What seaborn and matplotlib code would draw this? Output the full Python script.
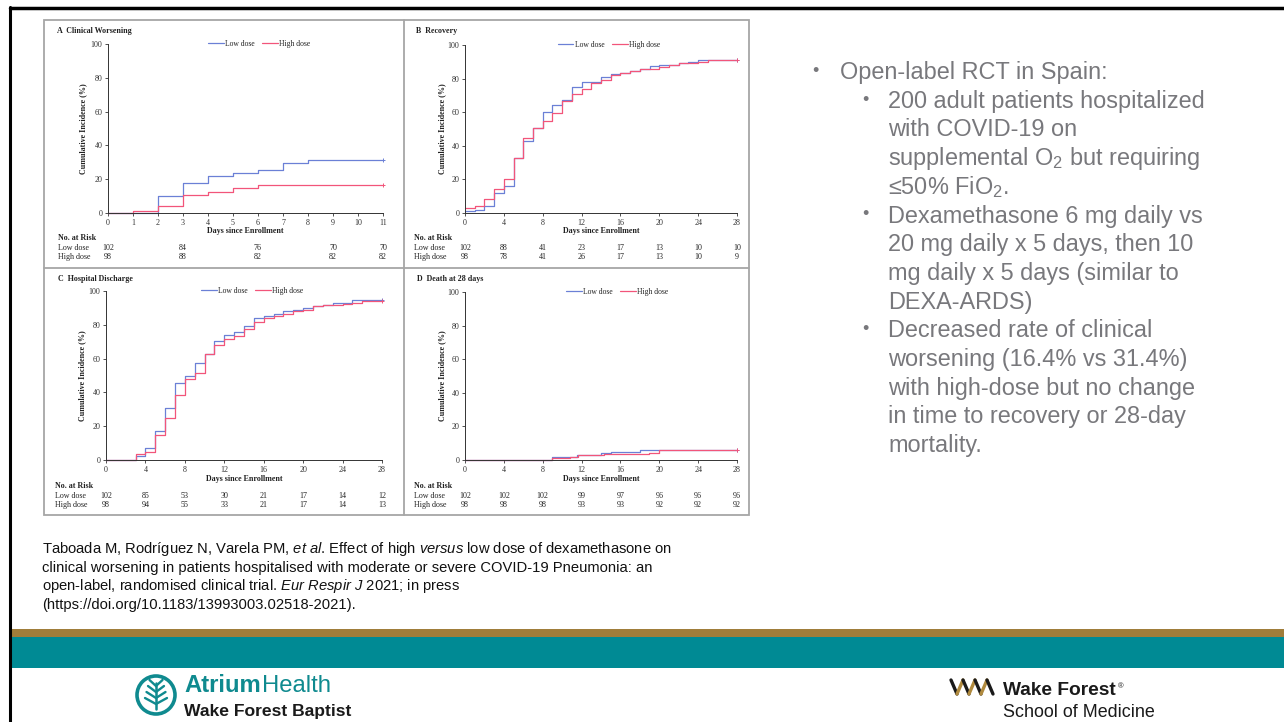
import numpy as np
import pandas as pd
import matplotlib
matplotlib.use("Agg")
import matplotlib.pyplot as plt
import seaborn as sns
from matplotlib.transforms import blended_transform_factory
from matplotlib.patches import Rectangle, Ellipse
from matplotlib.lines import Line2D
from matplotlib import font_manager

# ---------------- data ----------------
A_days = list(range(12))
A_low = [0, 0, 10, 17.8, 21.8, 23.8, 25.7, 29.7, 31.4, 31.4, 31.4, 31.4]
A_high = [0, 1, 4, 10.5, 12.5, 14.5, 16.4, 16.4, 16.4, 16.4, 16.4, 16.4]
A_risk_days = [0, 3, 6, 9, 11]
A_risk_low = [102, 84, 76, 70, 70]
A_risk_high = [98, 88, 82, 82, 82]

B_days = list(range(29))
B_low = [1, 1.6, 4, 12, 16, 33, 43, 50.5, 60, 64, 67, 75, 78, 78, 81, 83, 83.5, 84.5,
         86, 87.5, 88, 88, 89, 90, 91, 91, 91, 91, 91]
B_high = [3, 4.4, 8.3, 14, 20, 33, 44.5, 50.5, 55, 59.5, 66.5, 71, 74, 77.5, 79, 82, 83.5,
          84.5, 85.5, 86, 87, 88, 89, 89.5, 90, 91, 91, 91, 91]
B_risk_low = [102, 88, 41, 23, 17, 13, 10, 10]
B_risk_high = [98, 78, 41, 26, 17, 13, 10, 9]

C_days = list(range(29))
C_low = [0, 0, 0, 2.4, 7.3, 17, 31, 45.8, 50, 57.4, 63, 70.4, 73.8, 76, 79, 84, 85, 86.6,
         88, 88.8, 90, 91, 92, 93, 93, 94.5, 94.5, 94.5, 94.5]
C_high = [0, 0, 0, 3.4, 4.7, 15, 25, 38.5, 47.7, 51.7, 63, 68, 71.4, 73.4, 77.3, 81.7, 83.8,
          85, 86.6, 88, 89, 91, 92, 92, 92.5, 93, 94, 94, 94]
C_risk_low = [102, 85, 53, 30, 21, 17, 14, 12]
C_risk_high = [98, 94, 55, 33, 21, 17, 14, 13]

D_low_t = [0, 9, 11.5, 14, 15, 18, 28]
D_low_v = [0, 2, 3, 4, 5, 6, 6]
D_high_t = [0, 9, 10.8, 11.6, 14.3, 18.9, 20, 28]
D_high_v = [0, 1, 2, 3, 3.5, 4, 6, 6]
D_risk_low = [102, 102, 102, 99, 97, 96, 96, 96]
D_risk_high = [98, 98, 98, 93, 93, 92, 92, 92]

risk_days_28 = [0, 4, 8, 12, 16, 20, 24, 28]
groups = ["Low dose", "High dose"]

bullets = [
    (0, True, "Open-label RCT in Spain:"),
    (1, True, "200 adult patients hospitalized"),
    (1, False, "with COVID-19 on"),
    (1, False, "supplemental O$_2$ but requiring"),
    (1, False, "≤50% FiO$_2$."),
    (1, True, "Dexamethasone 6 mg daily vs"),
    (1, False, "20 mg daily x 5 days, then 10"),
    (1, False, "mg daily x 5 days (similar to"),
    (1, False, "DEXA-ARDS)"),
    (1, True, "Decreased rate of clinical"),
    (1, False, "worsening (16.4% vs 31.4%)"),
    (1, False, "with high-dose but no change"),
    (1, False, "in time to recovery or 28-day"),
    (1, False, "mortality."),
]

citation = [
    r"Taboada M, Rodríguez N, Varela PM, $\mathit{et\ al}$. Effect of high $\mathit{versus}$ low dose of dexamethasone on",
    "clinical worsening in patients hospitalised with moderate or severe COVID-19 Pneumonia: an",
    r"open-label, randomised clinical trial. $\mathit{Eur\ Respir\ J}$ 2021; in press",
    "(https://doi.org/10.1183/13993003.02518-2021).",
]

# ---------------- setup ----------------
W, H = 1284, 722
sns.set_theme(style="ticks")
plt.rcParams["font.family"] = ["Liberation Sans", "DejaVu Sans"]
plt.rcParams["mathtext.fontset"] = "custom"
plt.rcParams["mathtext.rm"] = "Liberation Sans"
plt.rcParams["mathtext.it"] = "Liberation Sans:italic"
plt.rcParams["mathtext.default"] = "regular"

avail = {f.name for f in font_manager.fontManager.ttflist}
SERIF = "Liberation Serif" if "Liberation Serif" in avail else "DejaVu Serif"

fig = plt.figure(figsize=(W / 100, H / 100), dpi=100)
fig.patch.set_facecolor("white")
R = fig.canvas.get_renderer()


def fx(x):
    return x / W


def fy(y):
    return 1 - y / H


BLUE = "#6b80d6"
RED = "#f2557a"
pal = {"Low dose": BLUE, "High dose": RED}
PS = 5.8   # panel font size
TXT = "#222222"


def panel(x0, x1, y0, y100, tl, vl, th, vh, xmax, xticks, title, title_xy,
          leg_x, ylab_x, xlab_y, rows_y, lab_x, rdays, rlow, rhigh):
    ax = fig.add_axes([fx(x0), fy(y0), (x1 - x0) / W, (y0 - y100) / H])
    df = pd.DataFrame({
        "day": list(tl) + list(th),
        "pct": list(vl) + list(vh),
        "group": [groups[0]] * len(tl) + [groups[1]] * len(th),
    })
    sns.lineplot(data=df, x="day", y="pct", hue="group", hue_order=groups,
                 palette=pal, drawstyle="steps-post", estimator=None,
                 linewidth=0.9, ax=ax, clip_on=False)
    for t, v, g in [(tl, vl, groups[0]), (th, vh, groups[1])]:
        ax.plot([t[-1]], [v[-1]], marker="+", ms=3, mew=0.7, color=pal[g], clip_on=False)
    ax.set_xlim(0, xmax)
    ax.set_ylim(0, 100)
    ax.set_xticks(xticks)
    ax.set_yticks([0, 20, 40, 60, 80, 100])
    ax.tick_params(length=2.5, width=0.6, pad=1.5, labelsize=PS, colors="#333333")
    for lab in ax.get_xticklabels() + ax.get_yticklabels():
        lab.set_fontfamily(SERIF)
    sns.despine(ax=ax)
    for s in ["left", "bottom"]:
        ax.spines[s].set_linewidth(0.7)
        ax.spines[s].set_color("#333333")
    ax.set_facecolor("none")
    ax.set_ylabel("Cumulative Incidence (%)", fontsize=PS, fontweight="bold",
                  family=SERIF, color=TXT)
    ax.yaxis.set_label_coords((ylab_x - x0) / (x1 - x0), 0.5)
    ax.set_xlabel("")
    fig.text(fx((x0 + x1) / 2), fy(xlab_y), "Days since Enrollment", fontsize=PS,
             fontweight="bold", family=SERIF, ha="center", va="center", color=TXT)
    fig.text(fx(title_xy[0]), fy(title_xy[1]), title, fontsize=PS, fontweight="bold",
             family=SERIF, ha="left", va="center", color=TXT)
    sns.move_legend(ax, "center", bbox_to_anchor=(leg_x, 1.0), ncol=2, title=None,
                    frameon=False, prop={"family": SERIF, "size": 5.5},
                    handlelength=2.0, columnspacing=1.0, handletextpad=0.2,
                    borderaxespad=0)
    for lh in ax.get_legend().get_lines():
        lh.set_linewidth(0.9)
    for tt in ax.get_legend().get_texts():
        tt.set_color(TXT)
    tr = blended_transform_factory(ax.transData, fig.transFigure)
    fig.text(fx(lab_x), fy(rows_y[0]), "No. at Risk", fontsize=PS, fontweight="bold",
             family=SERIF, va="center", color=TXT)
    fig.text(fx(lab_x), fy(rows_y[1]), "Low dose", fontsize=PS, family=SERIF,
             va="center", color=TXT)
    fig.text(fx(lab_x), fy(rows_y[2]), "High dose", fontsize=PS, family=SERIF,
             va="center", color=TXT)
    for d, a, b in zip(rdays, rlow, rhigh):
        ax.text(d, fy(rows_y[1]), str(a), transform=tr, fontsize=PS, family=SERIF,
                ha="center", va="center", color=TXT)
        ax.text(d, fy(rows_y[2]), str(b), transform=tr, fontsize=PS, family=SERIF,
                ha="center", va="center", color=TXT)
    return ax


panel(108, 383, 213, 44, A_days, A_low, A_days, A_high, 11, list(range(12)),
      "A  Clinical Worsening", (57, 31), 0.55, 87, 231, (238, 248, 257), 58,
      A_risk_days, A_risk_low, A_risk_high)
panel(465, 737, 213, 45, B_days, B_low, B_days, B_high, 28, risk_days_28,
      "B  Recovery", (416, 31), 0.53, 446, 231, (238, 248, 257), 414,
      risk_days_28, B_risk_low, B_risk_high)
panel(106, 382, 460, 291, C_days, C_low, C_days, C_high, 28, risk_days_28,
      "C  Hospital Discharge", (58, 279), 0.53, 86, 479, (486, 496, 505), 55,
      risk_days_28, C_risk_low, C_risk_high)
panel(465, 737, 460, 292, D_low_t, D_low_v, D_high_t, D_high_v, 28, risk_days_28,
      "D  Death at 28 days", (417, 279), 0.56, 446, 479, (486, 496, 505), 414,
      risk_days_28, D_risk_low, D_risk_high)

# frame of the figure image
FR = "#a6a6a6"
fig.add_artist(Rectangle((fx(44), fy(515)), (749 - 44) / W, (515 - 20) / H,
                         transform=fig.transFigure, fill=False, ec=FR, lw=1.3))
fig.add_artist(Line2D([fx(404), fx(404)], [fy(20), fy(515)], color=FR, lw=1.3))
fig.add_artist(Line2D([fx(44), fx(749)], [fy(268), fy(268)], color=FR, lw=1.3))

# ---------------- bullet text ----------------
GRAY = "#78787c"
BS = 16.9
for i, (lvl, has_b, txt) in enumerate(bullets):
    base = 79 + 28.7 * i
    bx = 812 if lvl == 0 else 862
    tx = 840 if lvl == 0 else 888
    if has_b:
        fig.text(fx(bx), fy(base - 7.5), "•", fontsize=13, color=GRAY, ha="left", va="center")
    fig.text(fx(tx), fy(base), txt, fontsize=BS, color=GRAY, ha="left", va="baseline")

# ---------------- citation ----------------
cfam = ["Liberation Sans Narrow", "Liberation Sans"] if "Liberation Sans Narrow" in avail else ["Liberation Sans"]
csize = 10.0
ctexts = []
for i, line in enumerate(citation):
    t = fig.text(fx(42), fy(553 + 18.6 * i), line, fontsize=csize, color="#111111",
                 family=cfam, ha="left", va="baseline")
    ctexts.append(t)
w0 = ctexts[0].get_window_extent(R).width
scale = (671 - 42) / w0
for t in ctexts:
    t.set_fontsize(csize * scale)

# ---------------- slide decoration ----------------
GOLD = "#a07d3a"
TEAL = "#008a94"
fig.add_artist(Rectangle((fx(10), fy(637)), 1, 8 / H, transform=fig.transFigure,
                         color=GOLD, lw=0))
fig.add_artist(Rectangle((fx(10), fy(668)), 1, 31 / H, transform=fig.transFigure,
                         color=TEAL, lw=0))
fig.add_artist(Line2D([fx(10), fx(10)], [fy(7), 0], color="black", lw=2.2))
fig.add_artist(Line2D([fx(10), 1], [fy(8), fy(8)], color="black", lw=2.5))

# Atrium Health logo
ATEAL = "#0f8a8f"
cx, cy, r = 156, 695, 19
fig.add_artist(Ellipse((fx(cx), fy(cy)), 2 * r / W, 2 * r / H, transform=fig.transFigure,
                       fill=False, ec=ATEAL, lw=2.6))
fig.add_artist(Line2D([fx(cx), fx(cx)], [fy(cy + 14), fy(cy - 12)], color=ATEAL, lw=1.8))
for k in range(4):
    yy = cy + 9 - k * 6
    fig.add_artist(Line2D([fx(cx - 11 + 1.5 * k), fx(cx), fx(cx + 11 - 1.5 * k)],
                          [fy(yy - 6), fy(yy), fy(yy - 6)], color=ATEAL, lw=1.7))
t1 = fig.text(fx(184), fy(692), "Atrium", fontsize=17.2, fontweight="bold", color=ATEAL,
              va="baseline")
e = t1.get_window_extent(R)
fig.text(e.x1 / W + 1 / W, fy(692), "Health", fontsize=17.2, color=ATEAL, va="baseline")
fig.text(fx(184), fy(716), "Wake Forest Baptist", fontsize=12.6, fontweight="bold",
         color="#1a1a1a", va="baseline")

# Wake Forest School of Medicine logo
pts_x = [951, 957, 963, 969, 975, 981, 987, 993]
pts_y = [680, 694, 680, 694, 680, 694, 680, 694]
for j in range(len(pts_x) - 1):
    col = "#1a1a1a" if j % 2 == 0 else "#b08a3e"
    fig.add_artist(Line2D([fx(pts_x[j]), fx(pts_x[j + 1])], [fy(pts_y[j]), fy(pts_y[j + 1])],
                          color=col, lw=2.4, solid_capstyle="round"))
t2 = fig.text(fx(1003), fy(695), "Wake Forest", fontsize=13.8, fontweight="bold",
              color="#1a1a1a", va="baseline")
e2 = t2.get_window_extent(R)
fig.text(e2.x1 / W + 2 / W, fy(688), "®", fontsize=5.5, color="#1a1a1a", va="baseline")
fig.text(fx(1003), fy(717), "School of Medicine", fontsize=12.9, color="#1a1a1a",
         va="baseline")

fig.savefig("out.png", dpi=100, facecolor="white")
